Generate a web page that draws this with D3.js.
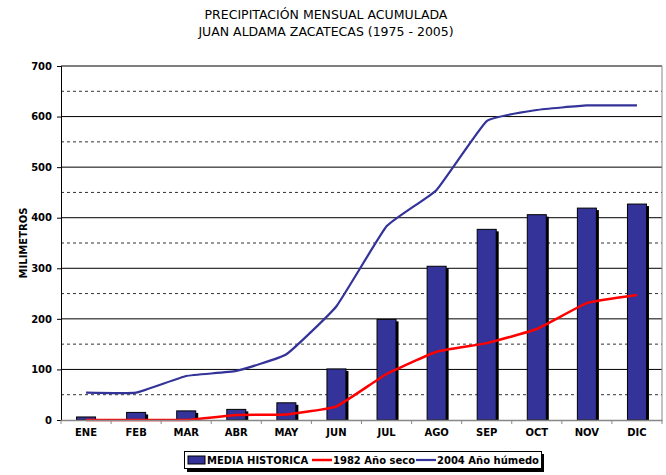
<!DOCTYPE html>
<html><head><meta charset="utf-8">
<script src="https://cdn.jsdelivr.net/npm/d3@7"></script>
<style>body{margin:0;background:#fff}svg{display:block}</style>
</head><body>
<script>
const months = ["ENE","FEB","MAR","ABR","MAY","JUN","JUL","AGO","SEP","OCT","NOV","DIC"];
const mediaHistorica = [6,15,18,21,34,101,199,304,377,406,419,427];
const seco1982 = [0,0,0,10,11,27,91,135,152,180,231,247];
const humedo2004 = [54,54,87,97,130,225,383,455,591,613,622,622];
const yTicks = [0,100,200,300,400,500,600,700];
const yMinor = [50,150,250,350,450,550,650];
const titleLines = ["PRECIPITACIÓN MENSUAL ACUMULADA","JUAN ALDAMA ZACATECAS (1975 - 2005)"];
const yLabel = "MILIMETROS";
const legendLabels = ["MEDIA HISTORICA","1982 Año seco","2004 Año húmedo"];

const W=666,H=475;
const m={l:61,r:4,t:66,b:55};
const svg=d3.select("body").append("svg").attr("width",W).attr("height",H);
const x=d3.scaleBand().domain(months).range([m.l,W-m.r]);
const y=d3.scaleLinear().domain([0,700]).range([H-m.b,m.t]);
const font="Verdana, 'DejaVu Sans', sans-serif";

// title
svg.append("g").selectAll("text").data(titleLines).join("text")
  .attr("x",326).attr("y",19).attr("dy",(d,i)=>i*17).attr("text-anchor","middle")
  .attr("font-family",font).attr("font-size",12.5).attr("fill","#000").text(d=>d);

// gridlines
svg.append("g").selectAll("line").data(yMinor).join("line")
  .attr("x1",m.l).attr("x2",W-m.r).attr("y1",d=>y(d)).attr("y2",d=>y(d))
  .attr("stroke","#333").attr("stroke-width",1).attr("stroke-dasharray","3,3");
svg.append("g").selectAll("line").data(yTicks.slice(1)).join("line")
  .attr("x1",m.l).attr("x2",W-m.r).attr("y1",d=>y(d)).attr("y2",d=>y(d))
  .attr("stroke","#000").attr("stroke-width",1);
svg.append("line").attr("x1",W-m.r).attr("x2",W-m.r).attr("y1",y(700)).attr("y2",y(0)).attr("stroke","#888");

// bars with shadow
const bw=19;
svg.append("g").selectAll("rect").data(mediaHistorica).join("rect")
  .attr("x",(d,i)=>x(months[i])+x.bandwidth()/2-bw/2+2.5).attr("y",d=>y(d)+2)
  .attr("width",bw).attr("height",d=>y(0)-y(d)-2).attr("fill","#000");
svg.append("g").selectAll("rect").data(mediaHistorica).join("rect")
  .attr("x",(d,i)=>x(months[i])+x.bandwidth()/2-bw/2).attr("y",d=>y(d))
  .attr("width",bw).attr("height",d=>y(0)-y(d)).attr("fill","#333399")
  .attr("stroke","#000").attr("stroke-width",1);

// lines
const line=d3.line().x((d,i)=>x(months[i])+x.bandwidth()/2).y(d=>y(d)).curve(d3.curveCardinal.tension(0.65));
svg.append("path").datum(seco1982).attr("d",line).attr("fill","none").attr("stroke","#ff0000").attr("stroke-width",2.5);
svg.append("path").datum(humedo2004).attr("d",line).attr("fill","none").attr("stroke","#333399").attr("stroke-width",2.2);

// axes
const yAxis=svg.append("g").attr("transform",`translate(${m.l},0)`)
  .call(d3.axisLeft(y).tickValues(yTicks).tickSize(4).tickPadding(5));
yAxis.select(".domain").attr("stroke","#000");
yAxis.selectAll("text").attr("font-family",font).attr("font-size",10).attr("font-weight","bold").attr("fill","#000");
const xAxis=svg.append("g").attr("transform",`translate(0,${y(0)})`)
  .call(d3.axisBottom(x).tickSize(0).tickPadding(9));
xAxis.select(".domain").attr("stroke","#888").attr("stroke-width",1.5);
xAxis.selectAll("text").attr("font-family",font).attr("font-size",10).attr("font-weight","bold").attr("fill","#000");
svg.append("g").selectAll("line").data(months.concat(["_end"])).join("line")
  .attr("x1",(d,i)=>m.l+i*x.step()).attr("x2",(d,i)=>m.l+i*x.step())
  .attr("y1",y(0)).attr("y2",y(0)+4).attr("stroke","#888");

// y label
svg.append("text").attr("transform",`translate(27,${(y(0)+y(700))/2}) rotate(-90)`)
  .attr("text-anchor","middle").attr("font-family",font).attr("font-size",10).attr("font-weight","bold").text(yLabel);

// legend
const lg=svg.append("g");
lg.append("rect").attr("x",187).attr("y",454).attr("width",357).attr("height",18).attr("fill","#000");
lg.append("rect").attr("x",184.5).attr("y",451.5).attr("width",357).attr("height",17).attr("fill","#fff").attr("stroke","#000");
lg.append("rect").attr("x",188).attr("y",456).attr("width",17).attr("height",8).attr("fill","#333399").attr("stroke","#000");
lg.append("text").attr("x",207).attr("y",464).attr("font-family",font).attr("font-size",10).attr("font-weight","bold").text(legendLabels[0]);
lg.append("line").attr("x1",312).attr("x2",332).attr("y1",460).attr("y2",460).attr("stroke","#ff0000").attr("stroke-width",2.5);
lg.append("text").attr("x",333).attr("y",464).attr("font-family",font).attr("font-size",10).attr("font-weight","bold").text(legendLabels[1]);
lg.append("line").attr("x1",416).attr("x2",436).attr("y1",460).attr("y2",460).attr("stroke","#333399").attr("stroke-width",2.2);
lg.append("text").attr("x",437).attr("y",464).attr("font-family",font).attr("font-size",10).attr("font-weight","bold").text(legendLabels[2]);
</script>
</body></html>
